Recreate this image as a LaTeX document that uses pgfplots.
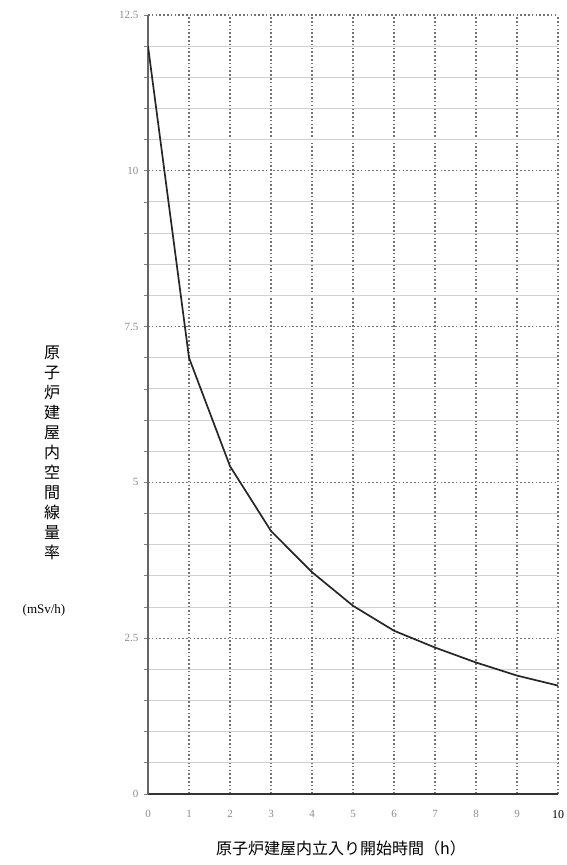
\documentclass[border=0pt]{standalone}
\usepackage{fontspec}
\setmainfont{Liberation Serif}
\newfontfamily\cjk{Noto Sans CJK JP}
\usepackage{pgfplots}
\pgfplotsset{compat=1.18}
\begin{document}
\begin{tikzpicture}[x=1pt,y=1pt]
\useasboundingbox (0,0) rectangle (566,865);
\begin{axis}[
  at={(148pt,71pt)}, anchor=south west,
  scale only axis, width=410pt, height=779pt,
  xmin=0, xmax=10, ymin=0, ymax=12.5,
  axis x line=bottom, axis y line=left,
  x axis line style={-, line width=1.6pt, color=black!80},
  y axis line style={-, line width=1.4pt, color=black!60},
  xtick={0,1,...,10},
  xticklabels={0,1,2,3,4,5,6,7,8,9,{\color{black}\fontsize{12}{12}\selectfont 10}},
  ytick={0,2.5,5,7.5,10,12.5},
  yticklabels={0,2.5,5,7.5,10,12.5},
  minor y tick num=4,
  tick align=outside,
  xtick style={draw=none},
  ytick style={color=gray, line width=0.8pt},
  major tick length=4pt, minor tick length=4pt,
  xmajorgrids, ymajorgrids, yminorgrids,
  major grid style={dash pattern=on 1.6pt off 2.2pt, color=black!55, line width=1.1pt},
  minor grid style={color=black!18, line width=1pt},
  /pgf/number format/assume math mode=true,
  xticklabel style={font=\fontsize{11}{11}\selectfont, text=black!45, yshift=-9pt},
  yticklabel style={font=\fontsize{11}{11}\selectfont, text=black!45, xshift=-2pt},
]
\addplot[color=black!85, line width=1.7pt] coordinates {
(0,12) (1,7.0) (2,5.26) (3,4.22) (4,3.56) (5,3.02) (6,2.62) (7,2.35) (8,2.11) (9,1.90) (10,1.74)
};
\end{axis}
\node[font=\cjk\fontsize{16}{20}\selectfont, align=center] at (52,412) {原\\子\\炉\\建\\屋\\内\\空\\間\\線\\量\\率};
\node[font=\fontsize{13}{13}\selectfont] at (44,255) {(mSv/h)};
\node[font=\cjk\fontsize{16}{16}\selectfont] at (341,17) {原子炉建屋内立入り開始時間（h）};
\end{tikzpicture}
\end{document}
